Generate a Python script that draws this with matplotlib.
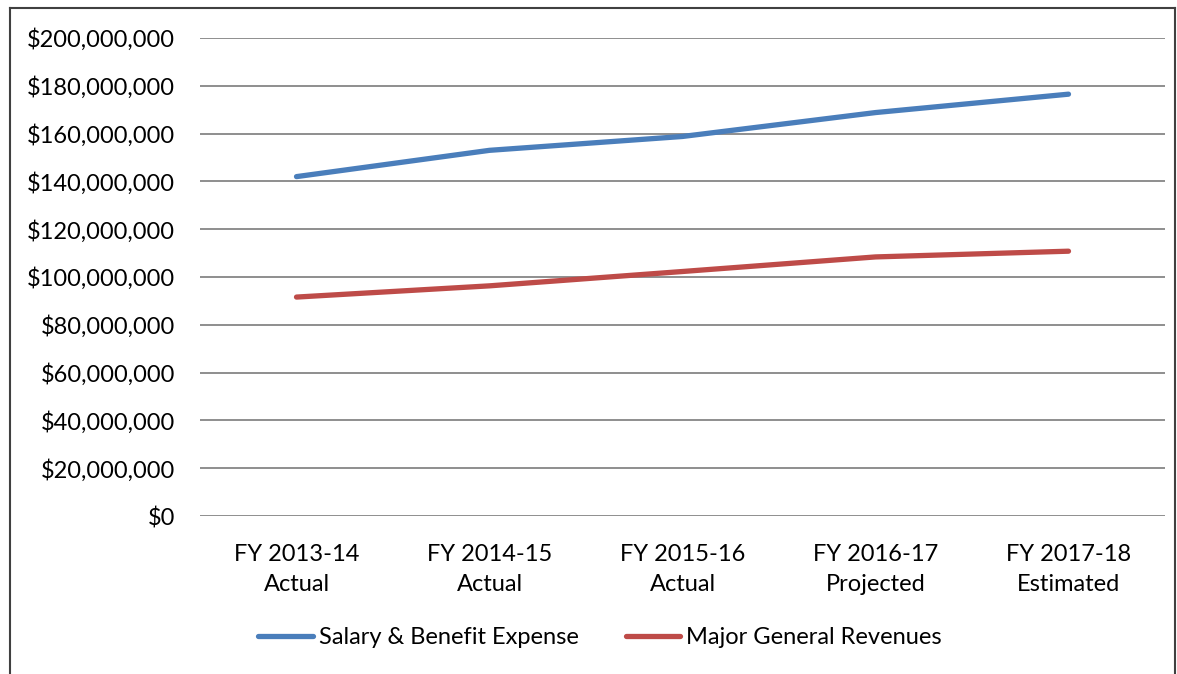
import matplotlib.pyplot as plt
from matplotlib.lines import Line2D
from matplotlib.ticker import FuncFormatter

categories = ["FY 2013-14\nActual", "FY 2014-15\nActual", "FY 2015-16\nActual",
              "FY 2016-17\nProjected", "FY 2017-18\nEstimated"]
salary = [142.0e6, 153.0e6, 158.8e6, 168.8e6, 176.5e6]
revenues = [91.6e6, 96.3e6, 102.3e6, 108.4e6, 110.8e6]

plt.rcParams['font.family'] = ['Lato', 'DejaVu Sans']
FS = 17

fig = plt.figure(figsize=(11.77, 6.74), dpi=100)
W, H = 1177, 674
ax = fig.add_axes([200 / W, 1 - 516 / H, 965 / W, (516 - 38) / H])

x = range(len(categories))
ax.plot(x, salary, color='#4A7EBB', lw=3.8, solid_capstyle='round', label='Salary & Benefit Expense')
ax.plot(x, revenues, color='#BE4B48', lw=3.8, solid_capstyle='round', label='Major General Revenues')

ax.set_xlim(-0.5, len(categories) - 0.5)
ax.set_ylim(0, 200e6)
ax.set_yticks(range(0, 200_000_001, 20_000_000))
ax.yaxis.set_major_formatter(FuncFormatter(lambda v, p: f"${v:,.0f}"))
ax.set_xticks(list(x))
ax.set_xticklabels(categories, fontsize=FS, linespacing=1.55)
ax.tick_params(axis='y', labelsize=FS, length=0, pad=18)
ax.tick_params(axis='x', length=0, pad=20)
ax.grid(axis='y', color='#868686', lw=1.3)
ax.set_axisbelow(True)
for s in ax.spines.values():
    s.set_visible(False)

handles = [Line2D([], [], color='#4A7EBB', lw=3.8, solid_capstyle='round'),
           Line2D([], [], color='#BE4B48', lw=3.8, solid_capstyle='round')]
fig.legend(handles, ['Salary & Benefit Expense', 'Major General Revenues'],
           loc='center', bbox_to_anchor=(600 / W, 1 - 638 / H), ncol=2, frameon=False,
           fontsize=FS, handlelength=2.3, handletextpad=0.25, columnspacing=2.0)

# outer chart border (left, top, right)
fig.add_artist(Line2D([10 / W, 10 / W], [0, 1 - 8 / H], color='#404040', lw=1.5))
fig.add_artist(Line2D([10 / W, 1175 / W], [1 - 8 / H, 1 - 8 / H], color='#404040', lw=1.5))
fig.add_artist(Line2D([1175 / W, 1175 / W], [0, 1 - 8 / H], color='#404040', lw=1.5))

fig.savefig('out.png', dpi=100)
